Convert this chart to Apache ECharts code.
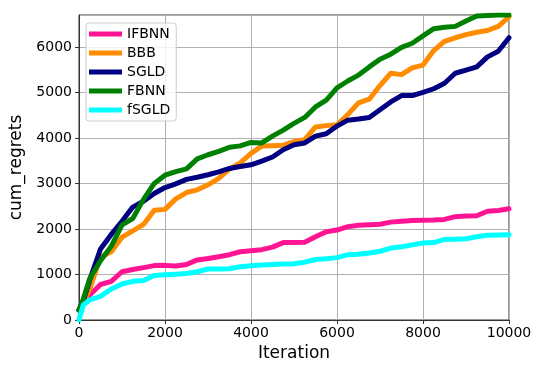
<!DOCTYPE html>
<html>
<head>
<meta charset="utf-8">
<script src="https://cdn.jsdelivr.net/npm/echarts@6/dist/echarts.min.js"></script>
<style>
    html, body { margin: 0; padding: 0; background: #fff; }
    #chart { width: 548px; height: 377px; }
</style>
</head>
<body>
<div id="chart"></div>
<script>
    // iterations shared by every curve
    const iterations = [0, 100, 250, 500, 750, 1000, 1250, 1500, 1750, 2000, 2250, 2500, 2750, 3000,
        3250, 3500, 3750, 4000, 4250, 4500, 4750, 5000, 5250, 5500, 5750, 6000, 6250, 6500,
        6750, 7000, 7250, 7500, 7750, 8000, 8250, 8500, 8750, 9000, 9250, 9500, 9750, 10000];

    const ifbnn = [220, 380, 550, 780, 850, 1060, 1110, 1150, 1195, 1200, 1185, 1220, 1320, 1350,
        1390, 1435, 1500, 1520, 1545, 1600, 1700, 1705, 1710, 1830, 1940, 1975, 2050, 2080,
        2090, 2105, 2150, 2170, 2185, 2190, 2195, 2210, 2270, 2285, 2290, 2390, 2405, 2445];
    const bbb = [220, 380, 680, 1380, 1500, 1820, 1960, 2100, 2410, 2430, 2660, 2800, 2860, 2970,
        3110, 3320, 3450, 3660, 3820, 3830, 3840, 3920, 3960, 4240, 4270, 4290, 4510, 4770,
        4850, 5150, 5420, 5390, 5540, 5600, 5920, 6120, 6200, 6270, 6320, 6360, 6450, 6660];
    const sgld = [220, 420, 880, 1560, 1880, 2170, 2480, 2610, 2780, 2910, 2990, 3090, 3135, 3190,
        3255, 3330, 3370, 3410, 3490, 3580, 3740, 3850, 3890, 4040, 4090, 4260, 4390, 4415,
        4450, 4620, 4790, 4930, 4930, 5000, 5080, 5200, 5420, 5490, 5560, 5780, 5905, 6200];
    const fbnn = [220, 460, 910, 1300, 1620, 2090, 2230, 2650, 3000, 3180, 3260, 3320, 3540, 3630,
        3705, 3795, 3825, 3900, 3890, 4040, 4170, 4320, 4450, 4680, 4830, 5100, 5250, 5380,
        5560, 5730, 5840, 5990, 6080, 6240, 6400, 6430, 6450, 6570, 6680, 6690, 6700, 6700];
    const fsgld = [0, 330, 440, 520, 680, 790, 850, 870, 980, 995, 1005, 1020, 1060, 1120,
        1120, 1125, 1170, 1190, 1210, 1220, 1230, 1235, 1270, 1330, 1345, 1370, 1435, 1445,
        1470, 1510, 1580, 1610, 1650, 1690, 1700, 1770, 1775, 1785, 1830, 1860, 1865, 1875];

    const names = ['IFBNN', 'BBB', 'SGLD', 'FBNN', 'fSGLD'];
    const colors = ['#ff1493', '#ff8c00', '#000080', '#008000', '#00ffff'];
    const values = [ifbnn, bbb, sgld, fbnn, fsgld];

    const font = 'DejaVu Sans';
    const chart = echarts.init(document.getElementById('chart'));

    const series = names.map(function (name, i) {
        return {
            name: name,
            type: 'line',
            showSymbol: false,
            lineStyle: { width: 5, color: colors[i], cap: 'round', join: 'round' },
            itemStyle: { color: colors[i] },
            data: iterations.map(function (x, k) { return [x, values[i][k]]; })
        };
    });

    const plain = function (v) { return String(v); };

    chart.setOption({
        animation: false,
        color: colors,
        grid: {
            left: 79, right: 39, top: 15, bottom: 57,
            show: true, borderColor: '#333', borderWidth: 1
        },
        legend: {
            orient: 'vertical',
            left: 86, top: 23,
            data: names,
            icon: 'rect',
            itemWidth: 33, itemHeight: 5,
            itemGap: 5,
            itemTextGap: 10,
            padding: [4, 6, 4, 3],
            backgroundColor: 'rgba(255,255,255,0.8)',
            borderColor: '#ccc', borderWidth: 1, borderRadius: 3,
            textStyle: { fontFamily: font, fontSize: 14, color: '#000' }
        },
        xAxis: {
            type: 'value',
            min: 0, max: 10000, interval: 2000,
            name: 'Iteration',
            nameLocation: 'middle',
            nameGap: 24,
            nameTextStyle: { fontFamily: font, fontSize: 17, color: '#000', verticalAlign: 'top' },
            axisLine: { show: true, lineStyle: { color: '#333', width: 1 } },
            axisTick: { show: true, length: 4, lineStyle: { color: '#333' } },
            axisLabel: { fontFamily: font, fontSize: 14, color: '#000', margin: 6, formatter: plain },
            splitLine: { show: true, lineStyle: { color: '#b0b0b0', width: 1 } }
        },
        yAxis: {
            type: 'value',
            min: 0, max: 6700, interval: 1000,
            name: 'cum_regrets',
            nameLocation: 'middle',
            nameGap: 33,
            nameTextStyle: { fontFamily: font, fontSize: 17, color: '#000' },
            axisLine: { show: true, lineStyle: { color: '#333', width: 1 } },
            axisTick: { show: true, length: 4, lineStyle: { color: '#333' } },
            axisLabel: { fontFamily: font, fontSize: 14, color: '#000', margin: 7, showMaxLabel: false, formatter: plain },
            splitLine: { show: true, lineStyle: { color: '#b0b0b0', width: 1 } }
        },
        series: series
    });
</script>
</body>
</html>
